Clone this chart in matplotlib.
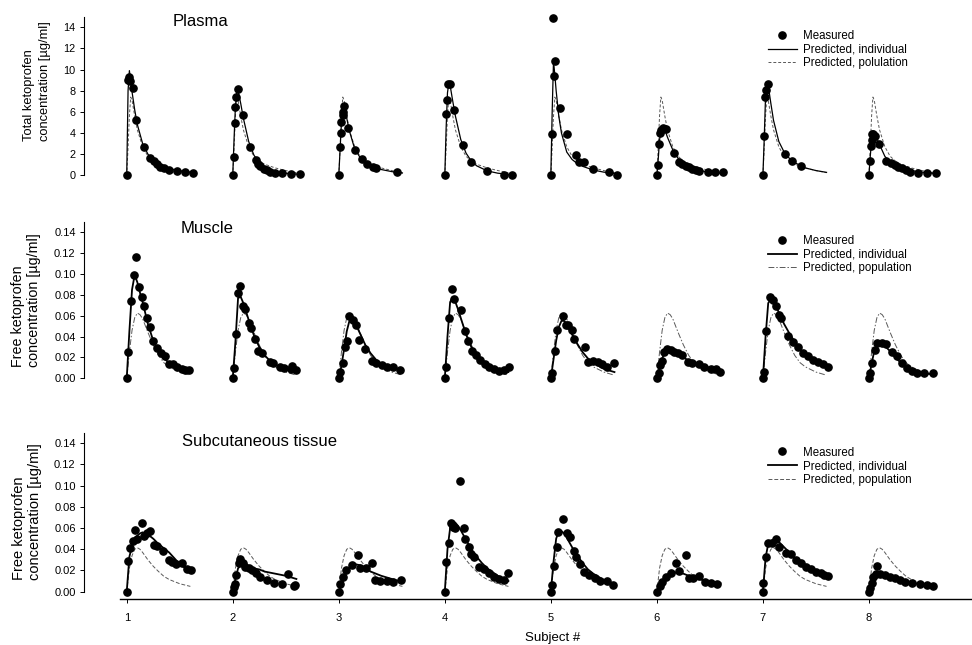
import numpy as np
import matplotlib
matplotlib.use("Agg")
import matplotlib.pyplot as plt
from matplotlib.lines import Line2D

plt.rcParams['font.family'] = ['Liberation Sans', 'DejaVu Sans']

SUBJECTS = [1, 2, 3, 4, 5, 6, 7, 8]
HOURS_PER_SUBJECT = 20.0  # one subject slot on the x axis spans 20 h

# model grids (h)
T_FIT_PLASMA = [0, 0.25, 0.5, 0.75, 1, 1.5, 2, 3, 4, 5, 6, 8, 10, 12]
T_FIT_TISSUE = [0, 0.5, 1, 1.5, 2, 2.5, 3, 4, 5, 6, 7, 8, 10, 12]

# ---- plasma, total ketoprofen [ug/ml] ----
PLASMA_T = [
    [0, 0.25, 0.4, 0.6, 1.1, 1.8, 3.3, 4.4, 5.2, 5.7, 6.3, 7.0, 7.9, 9.5, 11.0, 12.5],
    [0, 0.25, 0.38, 0.5, 0.69, 1.0, 1.9, 3.3, 4.3, 4.7, 5.2, 5.8, 6.5, 7.1, 7.9, 9.3, 11.0, 12.6],
    [0, 0.25, 0.35, 0.5, 0.7, 0.8, 0.95, 1.8, 3.1, 4.3, 5.4, 6.5, 7.1, 10.9],
    [0, 0.3, 0.45, 0.6, 0.9, 1.8, 3.4, 5.0, 8.0, 11.1, 12.6],
    [0, 0.2, 0.45, 0.55, 0.75, 1.7, 3.1, 4.7, 5.4, 6.3, 7.9, 11.0, 12.4],
    [0, 0.25, 0.45, 0.6, 0.8, 1.1, 1.7, 3.3, 4.2, 4.8, 5.5, 6.1, 6.7, 7.4, 7.9, 9.6, 11.0, 12.5],
    [0, 0.3, 0.45, 0.6, 0.95, 4.2, 5.5, 7.1],
    [0, 0.2, 0.4, 0.5, 0.6, 0.8, 1.1, 1.9, 3.3, 4.1, 4.9, 5.5, 6.2, 7.0, 7.7, 9.3, 10.9, 12.6],
]
PLASMA_C = [
    [0, 9.0, 9.3, 8.9, 8.3, 5.2, 2.7, 1.6, 1.4, 1.1, 0.8, 0.65, 0.5, 0.4, 0.3, 0.25],
    [0, 1.74, 4.96, 6.42, 7.43, 8.12, 5.69, 2.69, 1.42, 1.1, 0.85, 0.63, 0.47, 0.32, 0.22, 0.25, 0.1, 0.1],
    [0, 2.7, 4.0, 5.0, 5.7, 6.0, 6.6, 4.5, 2.4, 1.5, 1.07, 0.76, 0.66, 0.28],
    [0, 5.8, 7.1, 8.6, 8.6, 6.2, 2.9, 1.3, 0.41, 0.05, 0.05],
    [0, 3.9, 14.85, 9.4, 10.8, 6.4, 3.9, 1.9, 1.3, 1.3, 0.57, 0.35, 0.05],
    [0, 1.0, 3.0, 4.0, 4.3, 4.45, 4.35, 2.1, 1.3, 1.07, 0.9, 0.76, 0.6, 0.5, 0.44, 0.28, 0.28, 0.28],
    [0, 3.7, 7.4, 8.1, 8.6, 2.0, 1.4, 0.9],
    [0, 1.36, 2.8, 3.3, 3.9, 3.9, 3.7, 3.0, 1.36, 1.14, 1.0, 0.8, 0.66, 0.5, 0.35, 0.25, 0.19, 0.19],
]
PLASMA_FIT = [
    [0, 8.0, 9.9, 9.0, 7.9, 6.2, 4.8, 3.0, 2.0, 1.4, 1.05, 0.65, 0.42, 0.3],
    [0, 3.5, 6.5, 7.8, 8.0, 6.8, 5.4, 3.2, 1.9, 1.2, 0.8, 0.4, 0.2, 0.12],
    [0, 2.5, 5.0, 6.5, 6.6, 5.4, 4.2, 2.5, 1.7, 1.2, 0.9, 0.55, 0.35, 0.22],
    [0, 4.5, 7.8, 8.7, 8.5, 7.0, 5.6, 3.4, 2.1, 1.35, 0.9, 0.42, 0.2, 0.1],
    [0, 6.0, 10.8, 9.5, 8.0, 5.6, 4.0, 2.2, 1.5, 1.1, 0.85, 0.5, 0.3, 0.18],
    [0, 1.5, 3.3, 4.3, 4.6, 4.3, 3.6, 2.4, 1.6, 1.1, 0.8, 0.45, 0.3, 0.2],
    [0, 3.5, 7.5, 8.6, 8.5, 6.8, 5.2, 3.2, 2.2, 1.6, 1.2, 0.7, 0.45, 0.28],
    [0, 1.8, 3.3, 3.9, 4.0, 3.5, 2.9, 1.8, 1.2, 0.9, 0.7, 0.45, 0.3, 0.2],
]
PLASMA_POP = [0, 2.6, 5.6, 7.4, 7.1, 5.6, 4.3, 2.7, 1.8, 1.35, 1.05, 0.7, 0.45, 0.25]

# ---- muscle, free ketoprofen [ug/ml] ----
MUSCLE_T = [
    [0, 0.3, 0.75, 1.4, 1.8, 2.3, 2.8, 3.3, 3.8, 4.4, 5.0, 5.7, 6.4, 7.2, 7.9, 8.8, 9.4, 10.4, 11.0, 11.8],
    [0, 0.3, 0.7, 1.0, 1.3, 1.9, 2.4, 3.0, 3.5, 4.2, 4.8, 5.5, 7.1, 7.6, 9.0, 9.7, 10.9, 11.2, 12.0],
    [0, 0.2, 0.7, 1.1, 1.6, 2.0, 2.6, 3.3, 3.8, 4.9, 6.3, 7.1, 8.1, 9.0, 10.3, 11.5],
    [0, 0.25, 0.75, 1.4, 1.8, 3.0, 3.8, 4.3, 5.2, 5.8, 6.7, 7.6, 8.3, 9.2, 10.2, 11.2, 12.1],
    [0, 0.25, 0.75, 1.2, 2.2, 2.8, 3.3, 3.9, 4.3, 6.5, 7.0, 8.0, 8.9, 9.7, 10.6, 11.9],
    [0, 0.4, 0.6, 0.9, 1.4, 2.0, 2.6, 3.3, 3.9, 4.8, 5.8, 6.7, 8.0, 8.9, 10.2, 11.1, 11.9],
    [0, 0.25, 0.5, 1.25, 1.9, 2.5, 3.0, 3.5, 4.7, 5.7, 6.6, 7.5, 8.5, 9.4, 10.4, 11.3, 12.3],
    [0, 0.2, 0.5, 1.1, 1.6, 2.4, 3.3, 4.3, 5.2, 6.2, 7.1, 8.1, 9.0, 10.3, 12.0],
]
MUSCLE_C = [
    [0, 0.0256, 0.0745, 0.099, 0.116, 0.087, 0.078, 0.069, 0.058, 0.049, 0.036, 0.029, 0.024, 0.021,
     0.014, 0.014, 0.0105, 0.0086, 0.008, 0.008],
    [0, 0.0096, 0.042, 0.082, 0.088, 0.069, 0.066, 0.053, 0.048, 0.038, 0.0265, 0.024, 0.016, 0.0144,
     0.0105, 0.0096, 0.0086, 0.012, 0.008],
    [0, 0.0064, 0.015, 0.030, 0.036, 0.060, 0.056, 0.051, 0.037, 0.028, 0.017, 0.0144, 0.0128, 0.0105,
     0.0105, 0.008],
    [0, 0.011, 0.0575, 0.0853, 0.0757, 0.065, 0.045, 0.036, 0.0265, 0.0224, 0.0176, 0.0137, 0.0105,
     0.0086, 0.0073, 0.008, 0.011],
    [0, 0.005, 0.026, 0.046, 0.060, 0.051, 0.051, 0.046, 0.038, 0.030, 0.016, 0.017, 0.016, 0.0137,
     0.0105, 0.0144],
    [0, 0.005, 0.0128, 0.017, 0.0256, 0.028, 0.027, 0.0256, 0.024, 0.0224, 0.016, 0.0144, 0.0137,
     0.011, 0.0086, 0.0086, 0.0064],
    [0, 0.0064, 0.045, 0.078, 0.075, 0.069, 0.061, 0.058, 0.041, 0.035, 0.030, 0.0246, 0.021, 0.018,
     0.016, 0.0137, 0.011],
    [0, 0.005, 0.0144, 0.027, 0.0336, 0.0336, 0.033, 0.0256, 0.021, 0.0144, 0.0096, 0.0073, 0.0054,
     0.0048, 0.0054],
]
MUSCLE_FIT = [
    [0, 0.045, 0.085, 0.099, 0.092, 0.082, 0.073, 0.052, 0.036, 0.026, 0.019, 0.015, 0.010, 0.008],
    [0, 0.035, 0.077, 0.078, 0.072, 0.064, 0.056, 0.041, 0.030, 0.022, 0.017, 0.013, 0.009, 0.007],
    [0, 0.012, 0.028, 0.045, 0.055, 0.057, 0.054, 0.043, 0.032, 0.024, 0.018, 0.014, 0.010, 0.008],
    [0, 0.040, 0.073, 0.078, 0.073, 0.066, 0.058, 0.042, 0.030, 0.022, 0.016, 0.012, 0.008, 0.006],
    [0, 0.018, 0.036, 0.049, 0.055, 0.055, 0.052, 0.042, 0.033, 0.025, 0.019, 0.015, 0.009, 0.006],
    [0, 0.010, 0.019, 0.025, 0.027, 0.027, 0.026, 0.023, 0.020, 0.017, 0.015, 0.013, 0.010, 0.007],
    [0, 0.040, 0.072, 0.076, 0.074, 0.069, 0.063, 0.052, 0.043, 0.035, 0.028, 0.023, 0.016, 0.011],
    [0, 0.014, 0.026, 0.032, 0.034, 0.033, 0.031, 0.026, 0.020, 0.015, 0.011, 0.008, 0.005, 0.004],
]
MUSCLE_POP = [0, 0.025, 0.046, 0.058, 0.0625, 0.061, 0.057, 0.044, 0.032, 0.022, 0.015, 0.011, 0.006, 0.003]

# ---- subcutaneous tissue, free ketoprofen [ug/ml] ----
SUBCUT_T = [
    [0, 0.2, 0.6, 1.1, 1.6, 2.0, 2.8, 3.3, 3.8, 4.4, 5.2, 5.7, 6.9, 7.9, 8.5, 9.3, 10.4, 11.3, 12.1],
    [0, 0.2, 0.4, 0.7, 1.1, 1.4, 1.9, 2.4, 3.0, 3.6, 4.3, 5.2, 6.5, 7.7, 9.3, 10.4, 11.5, 11.8],
    [0, 0.2, 0.8, 1.4, 2.4, 3.6, 4.0, 5.2, 6.3, 6.8, 7.7, 9.0, 10.3, 11.8],
    [0, 0.3, 0.75, 1.1, 1.5, 2.0, 2.8, 3.6, 3.9, 4.5, 5.0, 5.5, 6.4, 7.4, 8.3, 9.2, 10.2, 11.1, 12.0],
    [0, 0.15, 0.6, 1.1, 1.4, 2.2, 3.0, 3.7, 4.3, 4.8, 5.5, 6.2, 7.2, 8.3, 9.2, 10.5, 11.8],
    [0, 0.55, 0.95, 1.7, 2.6, 3.6, 4.2, 5.5, 6.0, 6.9, 8.0, 9.1, 10.2, 11.4],
    [0, 0.1, 0.5, 0.9, 1.8, 2.5, 3.1, 4.4, 5.3, 6.3, 7.2, 8.2, 9.1, 10.1, 11.0, 11.6, 12.3],
    [0, 0.2, 0.5, 0.8, 1.3, 1.6, 2.1, 3.0, 4.0, 4.9, 5.8, 6.8, 8.1, 9.6, 10.9, 12.0],
]
SUBCUT_C = [
    [0, 0.029, 0.041, 0.048, 0.058, 0.050, 0.0645, 0.053, 0.055, 0.057, 0.044, 0.043, 0.038, 0.030,
     0.028, 0.026, 0.027, 0.021, 0.020],
    [0, 0.0047, 0.0072, 0.0157, 0.0267, 0.031, 0.0267, 0.0236, 0.022, 0.0204, 0.0173, 0.0142, 0.011,
     0.0079, 0.0072, 0.0167, 0.0057, 0.0063],
    [0, 0.0072, 0.0142, 0.0204, 0.025, 0.0346, 0.022, 0.022, 0.0267, 0.011, 0.010, 0.010, 0.0094, 0.011],
    [0, 0.0283, 0.0456, 0.0645, 0.061, 0.060, 0.104, 0.060, 0.050, 0.0425, 0.036, 0.033, 0.0236, 0.021,
     0.018, 0.0142, 0.0116, 0.011, 0.0173],
    [0, 0.0063, 0.0242, 0.042, 0.0566, 0.0686, 0.055, 0.052, 0.038, 0.0324, 0.026, 0.0189, 0.0157,
     0.0126, 0.0104, 0.010, 0.0063],
    [0, 0.0057, 0.0094, 0.0142, 0.0173, 0.0274, 0.0198, 0.0346, 0.0126, 0.0126, 0.0148, 0.0094, 0.0079,
     0.0072],
    [0, 0.0079, 0.033, 0.0456, 0.0456, 0.050, 0.0425, 0.0368, 0.036, 0.030, 0.0267, 0.0236, 0.021,
     0.0189, 0.0173, 0.0157, 0.0148],
    [0, 0.0031, 0.0085, 0.0142, 0.0167, 0.0242, 0.0167, 0.0157, 0.0142, 0.0126, 0.011, 0.0094, 0.0079,
     0.0072, 0.0063, 0.0057],
]
SUBCUT_FIT = [
    [0, 0.033, 0.043, 0.049, 0.053, 0.055, 0.056, 0.054, 0.050, 0.045, 0.041, 0.037, 0.026, 0.019],
    [0, 0.012, 0.022, 0.025, 0.0245, 0.024, 0.023, 0.022, 0.021, 0.019, 0.018, 0.017, 0.015, 0.012],
    [0, 0.006, 0.013, 0.019, 0.023, 0.025, 0.026, 0.025, 0.022, 0.019, 0.017, 0.015, 0.012, 0.009],
    [0, 0.040, 0.060, 0.066, 0.065, 0.062, 0.058, 0.049, 0.040, 0.033, 0.027, 0.022, 0.015, 0.010],
    [0, 0.028, 0.050, 0.057, 0.057, 0.055, 0.051, 0.042, 0.034, 0.027, 0.021, 0.017, 0.011, 0.007],
    [0, 0.005, 0.010, 0.013, 0.016, 0.017, 0.018, 0.018, 0.017, 0.015, 0.014, 0.012, 0.010, 0.008],
    [0, 0.032, 0.045, 0.048, 0.049, 0.049, 0.047, 0.042, 0.037, 0.032, 0.028, 0.024, 0.019, 0.015],
    [0, 0.007, 0.013, 0.016, 0.017, 0.017, 0.0165, 0.015, 0.013, 0.011, 0.0095, 0.0085, 0.007, 0.0055],
]
SUBCUT_POP = [0, 0.022, 0.034, 0.040, 0.0415, 0.040, 0.037, 0.030, 0.024, 0.019, 0.0145, 0.0115, 0.0075, 0.005]

LEGEND_LABELS = [
    ["Measured", "Predicted, individual", "Predicted, polulation"],
    ["Measured", "Predicted, individual", "Predicted, population"],
    ["Measured", "Predicted, individual", "Predicted, population"],
]

W, H = 972, 645
fig = plt.figure(figsize=(W / 100, H / 100), dpi=100)

X_MIN, X_MAX = 0.597, 8.972
AX_LEFT = 84 / W

panels = [
    dict(title="Plasma", t=PLASMA_T, c=PLASMA_C, fit=PLASMA_FIT, pop=PLASMA_POP, tfit=T_FIT_PLASMA,
         ylim=(-1.0, 15.0), top=16.7, bottom=185.9, spine_top=15.0,
         yticks=np.arange(0, 15, 2), yfmt="{:.0f}", ytick_fs=7.8,
         ylabel="Total ketoprofen\nconcentration [\u00b5g/ml]", ylab_fs=9.3,
         ylab_family=['Liberation Sans Narrow', 'Liberation Sans', 'DejaVu Sans'],
         ylab_x=37, ylab_y=81, ylab_ls=1.45, title_xy=(173, 21), leg_top=30, fit_lw=0.9,
         pop_dash=(3, 2)),
    dict(title="Muscle", t=MUSCLE_T, c=MUSCLE_C, fit=MUSCLE_FIT, pop=MUSCLE_POP, tfit=T_FIT_TISSUE,
         ylim=(-0.006, 0.150), top=221.7, bottom=384.6, spine_top=0.150,
         yticks=np.arange(0, 0.141, 0.02), yfmt="{:.2f}", ytick_fs=8,
         ylabel="Free ketoprofen\nconcentration [\u00b5g/ml]", ylab_fs=10.3,
         ylab_family=['Liberation Sans', 'DejaVu Sans'],
         ylab_x=26, ylab_y=300, ylab_ls=1.15, title_xy=(181, 228), leg_top=235, fit_lw=1.3,
         pop_dash=(6, 2, 1.5, 2)),
    dict(title="Subcutaneous tissue", t=SUBCUT_T, c=SUBCUT_C, fit=SUBCUT_FIT, pop=SUBCUT_POP,
         tfit=T_FIT_TISSUE, ylim=(-0.0069, 0.150), top=432.7, bottom=599.0, spine_top=0.150,
         yticks=np.arange(0, 0.141, 0.02), yfmt="{:.2f}", ytick_fs=8,
         ylabel="Free ketoprofen\nconcentration [\u00b5g/ml]", ylab_fs=10.5,
         ylab_family=['Liberation Sans', 'DejaVu Sans'],
         ylab_x=27, ylab_y=512, ylab_ls=1.15, title_xy=(182, 442), leg_top=446.5, fit_lw=1.3,
         pop_dash=(4, 2)),
]

for i, p in enumerate(panels):
    ax = fig.add_axes([AX_LEFT, 1 - p["bottom"] / H, 1 - AX_LEFT, (p["bottom"] - p["top"]) / H])
    ax.set_xlim(X_MIN, X_MAX)
    ax.set_ylim(*p["ylim"])

    tfit = np.array(p["tfit"]) / HOURS_PER_SUBJECT
    for k, s in enumerate(SUBJECTS):
        ax.plot(s + tfit, p["pop"], color="0.35", lw=0.7, dashes=p["pop_dash"], zorder=2)
        ax.plot(s + tfit, p["fit"][k], color="black", lw=p["fit_lw"], zorder=2.5)
        ax.plot(s + np.array(p["t"][k]) / HOURS_PER_SUBJECT, p["c"][k], "o", color="black",
                ms=5.2, ls="none", zorder=3, clip_on=False)

    for side in ("top", "right"):
        ax.spines[side].set_visible(False)
    ax.spines["left"].set_bounds(0, p["spine_top"])
    ax.spines["left"].set_linewidth(0.8)
    ax.set_yticks(p["yticks"])
    ax.set_yticklabels([p["yfmt"].format(v) for v in p["yticks"]], fontsize=p["ytick_fs"])
    ax.tick_params(axis="y", direction="out", length=3, width=0.7, pad=3)

    if i < 2:
        ax.spines["bottom"].set_visible(False)
        ax.tick_params(axis="x", bottom=False, labelbottom=False)
    else:
        ax.spines["bottom"].set_bounds(0.94, X_MAX)
        ax.spines["bottom"].set_linewidth(1.0)
        ax.set_xticks(SUBJECTS)
        ax.set_xticklabels([str(s) for s in SUBJECTS], fontsize=8)
        ax.tick_params(axis="x", direction="out", length=3, width=0.7, pad=7)
        fig.text(553 / W, 1 - 638 / H, "Subject #", fontsize=9.5, ha="center", va="center")

    fig.text(p["title_xy"][0] / W, 1 - p["title_xy"][1] / H, p["title"], fontsize=12,
             ha="left", va="center")
    fig.text(p["ylab_x"] / W, 1 - p["ylab_y"] / H, p["ylabel"], fontsize=p["ylab_fs"],
             family=p["ylab_family"], rotation=90, ha="center", va="center",
             multialignment="left", linespacing=p["ylab_ls"])

    handles = [
        Line2D([], [], marker="o", color="black", ls="none", ms=5.2),
        Line2D([], [], color="black", lw=p["fit_lw"]),
        Line2D([], [], color="0.35", lw=0.7, dashes=p["pop_dash"]),
    ]
    ax.legend(handles, LEGEND_LABELS[i], loc="upper left",
              bbox_to_anchor=(768 / W, 1 - p["leg_top"] / H), bbox_transform=fig.transFigure,
              frameon=False, fontsize=8.3, handlelength=2.5, handletextpad=0.5,
              labelspacing=0.15, borderpad=0, borderaxespad=0)

fig.savefig("out.png", dpi=100)
